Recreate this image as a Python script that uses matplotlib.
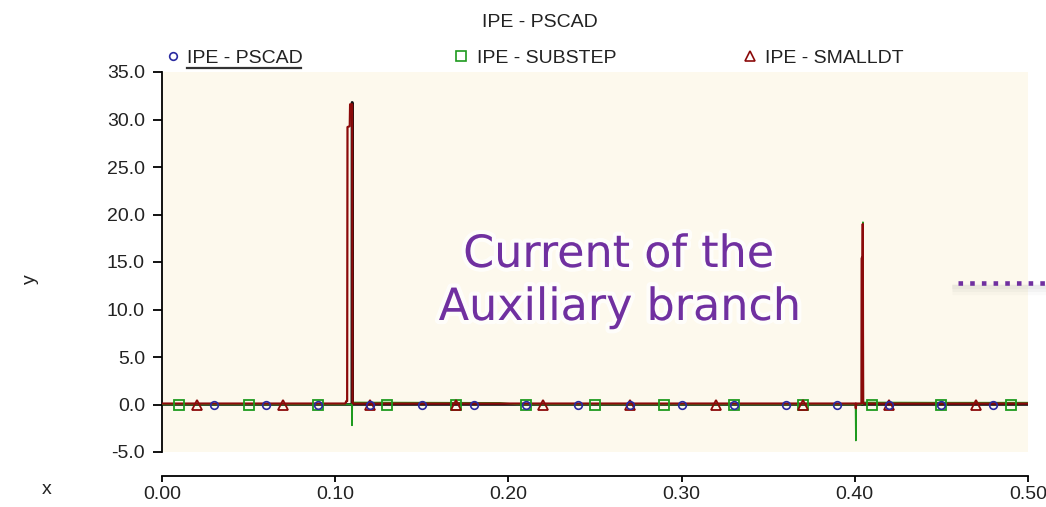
import matplotlib
matplotlib.use("Agg")
import matplotlib.pyplot as plt
from matplotlib.lines import Line2D
import matplotlib.patheffects as pe

# ---- data -------------------------------------------------------------
# IPE - PSCAD
pscad_t = [0.0, 0.1096, 0.1097, 0.1099, 0.1100, 0.4042, 0.4043, 0.4045, 0.4046, 0.5]
pscad_y = [0.0, 0.0, 31.8, 31.8, 0.0, 0.0, 15.5, 15.5, 0.0, 0.0]
pscad_mt = [0.03, 0.06, 0.09, 0.12, 0.15, 0.18, 0.21, 0.24, 0.27, 0.30,
            0.33, 0.36, 0.39, 0.42, 0.45, 0.48]
pscad_my = [0.0] * 16

# IPE - SUBSTEP
substep_t = [0.0, 0.1096, 0.1097, 0.1099, 0.1104, 0.15, 0.195, 0.205,
             0.4004, 0.4006, 0.4008, 0.4045, 0.4047, 0.4049, 0.4053, 0.45, 0.5]
substep_y = [0.0, 0.0, -2.2, 0.1, 0.22, 0.2, 0.18, 0.0,
             0.0, -3.8, 0.0, 0.0, 19.2, 0.3, 0.22, 0.2, 0.2]
substep_mt = [0.01, 0.05, 0.09, 0.13, 0.17, 0.21, 0.25, 0.29, 0.33,
              0.37, 0.41, 0.45, 0.49]
substep_my = [0.0] * 13

# IPE - SMALLDT
smalldt_t = [0.0, 0.1058, 0.1064, 0.1069, 0.1071, 0.1084, 0.1086, 0.1098,
             0.1100, 0.1103, 0.4004, 0.4006, 0.4008, 0.4039, 0.4040, 0.4045,
             0.4046, 0.4048, 0.4051, 0.5]
smalldt_y = [0.1, 0.1, 0.35, 0.35, 29.2, 29.3, 31.6, 31.6,
             0.2, 0.1, 0.1, -0.4, 0.1, 0.1, 15.4, 15.4,
             19.0, 0.2, 0.1, 0.1]
smalldt_mt = [0.02, 0.07, 0.12, 0.17, 0.22, 0.27, 0.32, 0.37, 0.42, 0.47]
smalldt_my = [0.0] * 10

x_ticks = [0.0, 0.1, 0.2, 0.3, 0.4, 0.5]
y_ticks = [-5, 0, 5, 10, 15, 20, 25, 30, 35]

series_names = ["IPE - PSCAD", "IPE - SUBSTEP", "IPE - SMALLDT"]
title_text = "IPE - PSCAD"
note_lines = ["Current of the", "Auxiliary branch"]

# ---- style ------------------------------------------------------------
W, H = 1046, 507
plt.rcParams["font.family"] = ["Liberation Sans", "DejaVu Sans"]
TXT = "#222222"
BLUE = "#2A2AA0"
GREEN = "#1E9A1E"
RED = "#8B0A0A"
PURPLE = "#7030A0"
FS = 14
PX = 72 / 100  # points per pixel at 100 dpi


def fx(px):
    return px / W


def fy(py):
    return 1 - py / H


fig = plt.figure(figsize=(W / 100, H / 100), dpi=100)
fig.patch.set_facecolor("white")

left, right, top, bottom = 162, 1028, 72, 452
ax = fig.add_axes([fx(left), fy(bottom), fx(right - left), (bottom - top) / H])
ax.set_facecolor("#FDF9ED")

# traces
ax.plot(pscad_t, pscad_y, color="#111111", lw=1.9, zorder=2)
ax.plot(substep_t, substep_y, color=GREEN, lw=1.1, zorder=3)
ax.plot(smalldt_t, smalldt_y, color=RED, lw=1.6, zorder=4)

# markers
ax.plot(pscad_mt, pscad_my, ls="none", marker="o", ms=5.5, mfc="none",
        mec=BLUE, mew=1.2, zorder=6)
ax.plot(substep_mt, substep_my, ls="none", marker="s", ms=6.8, mfc="none",
        mec=GREEN, mew=1.3, zorder=5)
ax.plot(smalldt_mt, smalldt_my, ls="none", marker="^", ms=7.2, mfc="none",
        mec=RED, mew=1.3, zorder=5)

ax.set_xlim(0, 0.5)
ax.set_ylim(-5, 35)
ax.set_xticks(x_ticks)
ax.set_xticklabels([f"{v:.2f}" for v in x_ticks])
ax.set_yticks(y_ticks)
ax.set_yticklabels([f"{v:.1f}" for v in y_ticks])

for s in ("top", "right"):
    ax.spines[s].set_visible(False)
ax.spines["left"].set_linewidth(1.3)
ax.spines["bottom"].set_linewidth(1.3)
ax.spines["bottom"].set_position(("outward", 24 * PX))
ax.tick_params(axis="y", direction="out", length=9 * PX, width=1.3, pad=8 * PX,
               labelsize=FS, labelcolor=TXT)
ax.tick_params(axis="x", direction="out", length=6 * PX, width=1.3, pad=4 * PX,
               labelsize=FS, labelcolor=TXT)

# axis names
fig.text(fx(30), fy(279), "y", rotation=90, ha="center", va="center",
         fontsize=FS, color=TXT)
fig.text(fx(47), fy(489), "x", ha="center", va="center", fontsize=FS, color=TXT)

# title
fig.text(fx(540), fy(27), title_text, ha="center", va="baseline",
         fontsize=FS, color=TXT)

# legend row
legend_items = [
    (173, 187, "o", BLUE, 5.5, series_names[0]),
    (461, 477, "s", GREEN, 6.5, series_names[1]),
    (750, 765, "^", RED, 7.0, series_names[2]),
]
for mx, tx, mk, col, ms, label in legend_items:
    fig.add_artist(Line2D([fx(mx)], [fy(56)], transform=fig.transFigure,
                          ls="none", marker=mk, ms=ms, mfc="none", mec=col,
                          mew=1.2))
    fig.text(fx(tx), fy(63), label, ha="left", va="baseline",
             fontsize=FS, color=TXT)
fig.add_artist(Line2D([fx(187), fx(301)], [fy(68), fy(68)],
                      transform=fig.transFigure, color="#333333", lw=1.6))

# annotation text with soft glow
glow = [pe.withStroke(linewidth=6, foreground="white", alpha=0.75)]
for (cx, by), line in zip([(619, 267), (620, 320)], note_lines):
    fig.text(fx(cx), fy(by), line, ha="center", va="baseline",
             fontsize=32, family="DejaVu Sans", color=PURPLE,
             path_effects=glow, zorder=10)

# dotted pointer with a soft drop shadow
for dy, lw, a in [(6, 8, 0.04), (5, 5, 0.05), (4, 3, 0.06)]:
    fig.add_artist(Line2D([fx(952), fx(1046)], [fy(283 + dy), fy(283 + dy)],
                          transform=fig.transFigure, color="#808080",
                          lw=lw, alpha=a, solid_capstyle="butt", zorder=9))
fig.add_artist(Line2D([fx(958), fx(1046)], [fy(283), fy(283)],
                      transform=fig.transFigure, color=PURPLE, lw=3.3,
                      ls=(0, (1, 1.55)), dash_capstyle="butt", zorder=10))

fig.savefig("out.png", dpi=100, facecolor="white")
